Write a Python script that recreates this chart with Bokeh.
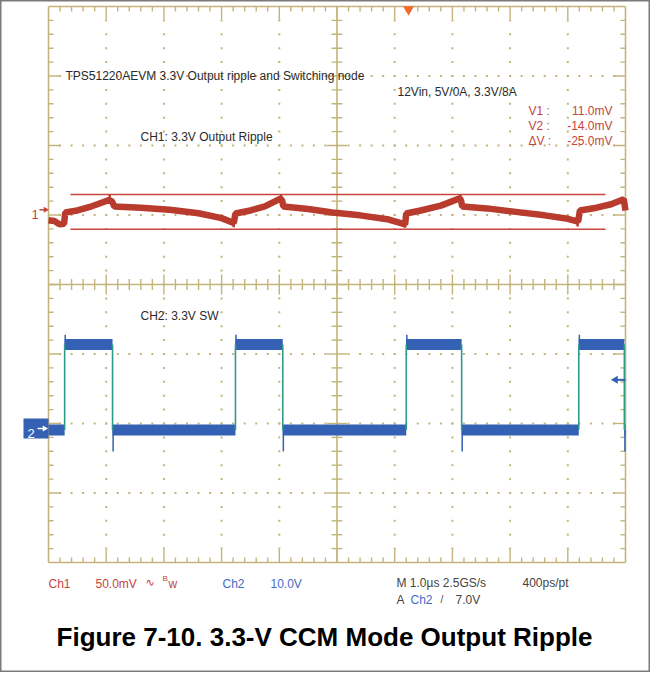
import numpy as np
from bokeh.plotting import figure
from bokeh.models import Range1d
from bokeh.core.properties import value
from bokeh.embed import file_html
from bokeh.resources import INLINE

# ---------------- data ----------------
# Channel 1: 3.3 V output ripple, AC coupled, 50 mV/div (time in µs, value in mV)
ch1_time_us = [0.00, 0.10, 0.19, 0.27, 0.29, 0.50, 0.75, 1.05, 1.10, 1.14, 1.60, 2.10,
               2.60, 3.00, 3.21, 3.24, 3.50, 3.75, 4.02, 4.05, 4.07, 4.50, 4.92, 5.40,
               5.90, 6.18, 6.20, 6.45, 6.80, 7.13, 7.15, 7.17, 7.60, 8.10, 8.60, 9.00,
               9.18, 9.21, 9.50, 9.75, 9.97, 10.00]
ch1_mv = [-7.5, -8.0, -10.5, -10.0, -2.0, -0.5, 2.5, 7.0, 6.0, 2.4, 1.5, 0.0,
          -2.5, -6.0, -9.5, -2.7, -0.5, 2.5, 8.0, 6.5, 2.4, 0.5, -1.9, -4.0,
          -7.0, -10.5, -2.7, -0.5, 3.0, 8.3, 6.5, 2.4, 1.0, -1.5, -4.0, -6.5,
          -8.5, -0.5, 1.5, 4.0, 7.6, -0.5]
ch1_spike_time_us = [0.22, 1.06, 3.21, 4.03, 6.18, 7.14, 9.17]
ch1_spike_mv = [-12.0, 11.0, -12.5, 11.0, -13.0, 11.0, -12.0]

# Channel 2: switching node, 10 V/div
ch2_edge_time_us = [0.28, 1.11, 3.24, 4.06, 6.20, 7.16, 9.19, 9.98]
ch2_edge_kind = ["rise", "fall", "rise", "fall", "rise", "fall", "rise", "fall"]
ch2_high_v = 12.1
ch2_low_v = -0.2
ch2_overshoot_v = 13.5
ch2_undershoot_v = -3.3

# scope settings / readouts
ch1_scale_mv = 50.0
ch1_offset_div = 1.075
ch2_scale_v = 10.0
ch2_offset_div = -2.072
cursor_v1_mv = 11.0
cursor_v2_mv = -14.0
trigger_level_v = 7.0
trigger_time_us = 6.24
n_xdiv, n_ydiv = 10, 8

title_text = "TPS51220AEVM 3.3V Output ripple and Switching node"
cond_text = "12Vin, 5V/0A, 3.3V/8A"
ch1_label = "CH1: 3.3V Output Ripple"
ch2_label = "CH2: 3.3V SW"
cursor_names = ["V1 :", "V2 :", "\u0394V :"]
cursor_values = ["11.0mV", "-14.0mV", "-25.0mV"]
caption = "Figure 7-10. 3.3-V CCM Mode Output Ripple"

# ---------------- geometry helpers ----------------
PX_X = 57.7   # pixels per µs (division)
PX_Y = 69.5   # pixels per vertical division
def rx(X):    # reference pixel -> time (µs)
    return (X - 56.0) / PX_X
def ry(Y):    # reference pixel -> divisions
    return (292.0 - Y) / PX_Y
def dx(px):
    return px / PX_X
def dy(px):
    return px / PX_Y
def ch1_div(mv):
    return ch1_offset_div + np.asarray(mv, dtype=float) / ch1_scale_mv
def ch2_div(v):
    return ch2_offset_div + np.asarray(v, dtype=float) / ch2_scale_v

GRID = "#C4B47C"
RED = "#B83B2E"
RED_TXT = "#C4453B"
BLUE = "#3461B4"
BLUE_TXT = "#3F6CC4"
TEAL = "#2E9A8A"
TXT = "#2B2B2B"
SANS = value("Liberation Sans")
SCOPE_SIZE = "12px"

W, H = 650, 672
p = figure(width=W, height=H, x_range=Range1d(rx(8), rx(8 + W)),
           y_range=Range1d(ry(8 + H), ry(8)), output_backend="svg",
           toolbar_location=None, min_border=0, x_axis_location=None,
           y_axis_location=None, title=None)
p.grid.visible = False
p.outline_line_color = "#7A7A7A"
p.outline_line_width = 2
p.background_fill_color = "white"
p.border_fill_color = "white"

# ---------------- graticule ----------------
xs_minor = np.round(np.arange(0, n_xdiv + 1e-9, 0.2), 6)
ys_minor = np.round(np.arange(-n_ydiv / 2, n_ydiv / 2 + 1e-9, 0.2), 6)
xs_inner = xs_minor[1:-1]
ys_inner = ys_minor[1:-1]

# dotted lines
dot_x, dot_y = [], []
for yl in [-3, -2, -1, 1, 2, 3]:
    dot_x += list(xs_inner); dot_y += [yl] * len(xs_inner)
for xl in [1, 2, 3, 4, 6, 7, 8, 9]:
    dot_x += [xl] * len(ys_inner); dot_y += list(ys_inner)
p.scatter(dot_x, dot_y, marker="square", size=2, fill_color=GRID, line_color=None)

# border + center cross
p.segment(x0=[0, 0, 0, 10, 0, 5], y0=[-4, 4, -4, -4, 0, -4],
          x1=[10, 10, 0, 10, 10, 5], y1=[-4, 4, 4, 4, 0, 4],
          line_color=GRID, line_width=1.6)

def is_major(v):
    return abs(v - round(v)) < 1e-6

tx0, ty0, tx1, ty1 = [], [], [], []
for xv in xs_inner:
    L = 13 if is_major(xv) else 5
    tx0 += [xv, xv]; tx1 += [xv, xv]
    ty0 += [4, -4]; ty1 += [4 - dy(L), -4 + dy(L)]
    c = 10 if is_major(xv) else 5.5
    tx0.append(xv); tx1.append(xv); ty0.append(-dy(c)); ty1.append(dy(c))
for yv in ys_inner:
    L = 12 if is_major(yv) else 5
    ty0 += [yv, yv]; ty1 += [yv, yv]
    tx0 += [0, 10]; tx1 += [dx(L), 10 - dx(L)]
    c = 10 if is_major(yv) else 5.5
    ty0.append(yv); ty1.append(yv); tx0.append(5 - dx(c)); tx1.append(5 + dx(c))
p.segment(x0=tx0, y0=ty0, x1=tx1, y1=ty1, line_color=GRID, line_width=1.4)

# ---------------- cursors ----------------
ct0, ct1 = rx(78), rx(613)
p.segment(x0=[ct0, ct0], x1=[ct1, ct1],
          y0=list(ch1_div([cursor_v1_mv, cursor_v2_mv])),
          y1=list(ch1_div([cursor_v1_mv, cursor_v2_mv])),
          line_color="#C9463C", line_width=1.6)

# ---------------- channel 2 ----------------
bounds = [0.0] + ch2_edge_time_us + [float(n_xdiv)]
levels = []
state = "low"
for k in ch2_edge_kind:
    levels.append(ch2_high_v if state == "high" else ch2_low_v)
    state = "high" if k == "rise" else "low"
levels.append(ch2_high_v if state == "high" else ch2_low_v)
p.segment(x0=bounds[:-1], x1=bounds[1:], y0=list(ch2_div(levels)), y1=list(ch2_div(levels)),
          line_color=BLUE, line_width=11, line_cap="butt")
# edges
p.segment(x0=ch2_edge_time_us, x1=ch2_edge_time_us,
          y0=[float(ch2_div(ch2_low_v))] * len(ch2_edge_time_us),
          y1=[float(ch2_div(ch2_high_v))] * len(ch2_edge_time_us),
          line_color=TEAL, line_width=1.6)
# overshoot / undershoot spikes
sx, sy0, sy1 = [], [], []
for t, k in zip(ch2_edge_time_us, ch2_edge_kind):
    if k == "rise":
        sx.append(t + 0.01); sy0.append(float(ch2_div(ch2_high_v))); sy1.append(float(ch2_div(ch2_overshoot_v)))
    else:
        sx.append(t + 0.01); sy0.append(float(ch2_div(ch2_low_v))); sy1.append(float(ch2_div(ch2_undershoot_v)))
p.segment(x0=sx, x1=sx, y0=sy0, y1=sy1, line_color=BLUE, line_width=1.5)

# ---------------- channel 1 ----------------
p.line(ch1_time_us, list(ch1_div(ch1_mv)), line_color=RED, line_width=6.5, line_join="bevel")
base = np.interp(ch1_spike_time_us, ch1_time_us, ch1_mv)
p.segment(x0=ch1_spike_time_us, x1=ch1_spike_time_us, y0=list(ch1_div(base)),
          y1=list(ch1_div(ch1_spike_mv)), line_color=RED, line_width=2.5)

# ---------------- markers ----------------
# trigger position (top) and trigger level (right)
p.scatter([trigger_time_us], [ry(17)], marker="inverted_triangle", size=11,
          fill_color="#F26A2C", line_color=None)
tl = float(ch2_div(trigger_level_v))
p.segment(x0=[rx(624)], x1=[rx(633)], y0=[tl], y1=[tl], line_color=BLUE, line_width=2)
p.scatter([rx(623)], [tl], marker="triangle", angle=np.pi / 2, size=8,
          fill_color=BLUE, line_color=None)
# channel 1 ground marker
g1 = float(ch1_div(0.0))
p.text([rx(39)], [g1 - dy(5)], text=["1"], text_font=SANS, text_font_size=value("13px"),
       text_color=RED_TXT, text_baseline="alphabetic")
p.segment(x0=[rx(47)], x1=[rx(53)], y0=[g1], y1=[g1], line_color=RED_TXT, line_width=1.5)
p.scatter([rx(53)], [g1], marker="triangle", angle=-np.pi / 2, size=6,
          fill_color=RED_TXT, line_color=None)
# channel 2 ground marker (box)
g2 = float(ch2_div(0.0))
p.quad(left=[rx(31)], right=[rx(56)], top=[g2 + dy(10)], bottom=[g2 - dy(10)],
       fill_color=BLUE, line_color=None)
p.text([rx(35)], [g2 - dy(5)], text=["2"], text_font=SANS, text_font_size=value("13px"),
       text_color="white", text_baseline="alphabetic")
p.segment(x0=[rx(45)], x1=[rx(52)], y0=[g2], y1=[g2], line_color="white", line_width=1.5)
p.scatter([rx(52)], [g2], marker="triangle", angle=-np.pi / 2, size=6,
          fill_color="white", line_color=None)

# ---------------- texts ----------------
def txt(X, Y, s, color=TXT, size=SCOPE_SIZE, align="left", font=SANS, style="normal"):
    p.text([rx(X)], [ry(Y)], text=[s], text_font=font, text_font_size=value(size),
           text_color=color, text_align=align, text_baseline="alphabetic",
           text_font_style=style)

txt(73, 83, title_text)
txt(405, 99, cond_text)
txt(148, 144, ch1_label)
txt(148, 323, ch2_label)
for i, (nm, vv) in enumerate(zip(cursor_names, cursor_values)):
    txt(536, 118 + 15 * i, nm, color=RED_TXT)
    txt(620, 118 + 15 * i, vv, color=RED_TXT, align="right")

txt(56, 591, "Ch1", color=RED_TXT)
txt(103, 591, "50.0mV", color=RED_TXT)
txt(153, 590, "\u223f", color=RED_TXT, size="11px", font=value("DejaVu Sans"))
txt(170, 586, "B", color=RED_TXT, size="8px")
txt(176, 591, "w", color=RED_TXT)
txt(230, 591, "Ch2", color=BLUE_TXT)
txt(278, 591, "10.0V", color=BLUE_TXT)
txt(404, 590, "M 1.0\u00b5s 2.5GS/s", color="#444444")
txt(530, 590, "400ps/pt", color="#444444")
txt(404, 607, "A", color="#444444")
txt(418, 607, "Ch2", color=BLUE_TXT)
txt(448, 607, "/", color="#444444", size="10px")
txt(463, 607, "7.0V", color="#444444")

txt(332, 644, caption, color="black", size="26px", align="center",
    font=value("Liberation Sans"), style="bold")

open("out.html", "w").write(file_html(p, INLINE))
